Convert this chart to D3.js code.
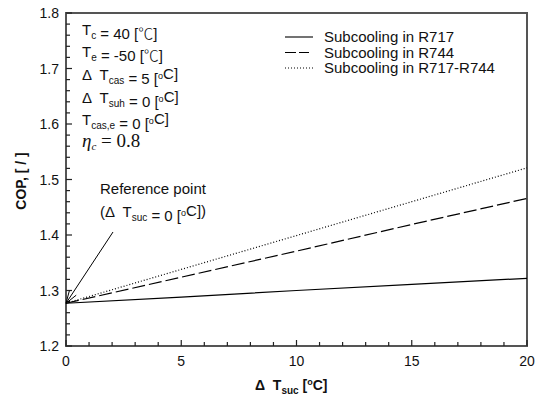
<!DOCTYPE html>
<html>
<head>
<meta charset="utf-8">
<script src="https://cdn.jsdelivr.net/npm/d3@7"></script>
<style>
  body { margin: 0; background: #fff; }
  svg text { font-family: "Liberation Sans", Arial, sans-serif; fill: #111; white-space: pre; }
  .tick_lbl { font-size: 14px; }
  .axis_title { font-size: 14px; font-weight: bold; }
  .note { font-size: 15px; }
</style>
</head>
<body>
<div id="viz"></div>
<script>
// values
const dTsuc = [0, 5, 10, 15, 20];
const copR717 = [1.277, 1.288, 1.300, 1.311, 1.322];
const copR744 = [1.277, 1.324, 1.371, 1.419, 1.466];
const copR717R744 = [1.277, 1.338, 1.399, 1.460, 1.521];
const seriesNames = ["Subcooling in R717", "Subcooling in R744", "Subcooling in R717-R744"];
const xTicks = [0, 5, 10, 15, 20];
const yTicks = [1.2, 1.3, 1.4, 1.5, 1.6, 1.7, 1.8];

const width = 543;
const height = 402;
const padLeft = 66, padRight = 527, padTop = 13, padBottom = 346;

const svg = d3.select("#viz")
    .append("svg")
    .attr("width", width)
    .attr("height", height);

const x = d3.scaleLinear().domain([0, 20]).range([padLeft, padRight]);
const y = d3.scaleLinear().domain([1.2, 1.8]).range([padBottom, padTop]);

// frame
svg.append("rect")
    .attr("x", padLeft).attr("y", padTop)
    .attr("width", padRight - padLeft).attr("height", padBottom - padTop)
    .attr("fill", "none").attr("stroke", "#555").attr("stroke-width", 2);

// minor + major ticks, pointing inward (left and bottom only)
const xMinor = x.ticks(20);
const yMinor = y.ticks(30);

svg.append("g").selectAll("rect")
    .data(xMinor)
    .enter().append("rect")
    .attr("x", d => x(d) - 0.6)
    .attr("y", d => padBottom - (Math.round(d) % 5 === 0 ? 6 : 4))
    .attr("width", 1.2)
    .attr("height", d => (Math.round(d) % 5 === 0 ? 6 : 4))
    .attr("fill", "#222");

svg.append("g").selectAll("rect")
    .data(yMinor)
    .enter().append("rect")
    .attr("x", padLeft)
    .attr("y", d => y(d) - 0.6)
    .attr("width", (d, i) => (i % 5 === 0 ? 6 : 4))
    .attr("height", 1.2)
    .attr("fill", "#222");

// tick labels
svg.selectAll(".xl").data(xTicks).enter().append("text")
    .attr("class", "tick_lbl")
    .attr("x", d => x(d)).attr("y", padBottom + 20)
    .attr("text-anchor", "middle")
    .text(d => d);

svg.selectAll(".yl").data(yTicks).enter().append("text")
    .attr("class", "tick_lbl")
    .attr("x", padLeft - 7).attr("y", d => y(d) + 5)
    .attr("text-anchor", "end")
    .text(d => d.toFixed(1));

// series
const dashes = [null, "13,4", "1,2"];
const allSeries = [copR717, copR744, copR717R744];
const line = d3.line().x(d => x(d[0])).y(d => y(d[1]));

allSeries.forEach((s, i) => {
    svg.append("path")
        .datum(dTsuc.map((t, j) => [t, s[j]]))
        .attr("d", line)
        .attr("fill", "none")
        .attr("stroke", "#000")
        .attr("stroke-width", 1.2)
        .attr("stroke-dasharray", dashes[i]);
});

// legend
const legendY = [37, 52.5, 68];
seriesNames.forEach((name, i) => {
    svg.append("line")
        .attr("x1", 285).attr("x2", 313)
        .attr("y1", legendY[i]).attr("y2", legendY[i])
        .attr("stroke", "#000").attr("stroke-width", 1.1)
        .attr("stroke-dasharray", i == 1 ? "11,3,10,4,1,3" : dashes[i]);
    svg.append("text")
        .attr("class", "note")
        .attr("x", 324).attr("y", legendY[i] + 5)
        .text(name);
});

// condition notes
function note(xp, yp, parts) {
    const t = svg.append("text").attr("class", "note").attr("x", xp).attr("y", yp);
    parts.forEach(p => {
        if (p[1] === "sub") {
            t.append("tspan").attr("font-size", "10px").attr("dy", 4).text(p[0]);
            t.append("tspan").attr("dy", -4).text("");
        } else if (p[1] === "sup") {
            t.append("tspan").attr("font-size", "9px").attr("dy", -5).text(p[0]);
            t.append("tspan").attr("dy", 5).text("");
        } else if (p[1] === "cjk") {
            t.append("tspan").style("font-family", "'Noto Sans CJK JP'").attr("font-weight", 300).text(p[0]);
        } else {
            t.append("tspan").text(p[0]);
        }
    });
    return t;
}

note(82, 35, [["T"], ["c", "sub"], [" = 40 ["], ["\u2103", "cjk"], ["]"]]);
note(82, 57, [["T"], ["e", "sub"], [" = -50 ["], ["\u2103", "cjk"], ["]"]]);
note(82, 80, [["\u0394  T"], ["cas", "sub"], [" = 5 ["], ["o", "sup"], ["C]"]]);
note(82, 103, [["\u0394  T"], ["suh", "sub"], [" = 0 ["], ["o", "sup"], ["C]"]]);
note(82, 125, [["T"], ["cas,e", "sub"], [" = 0 ["], ["o", "sup"], ["C]"]]);

const eta = svg.append("text").attr("x", 82).attr("y", 147)
    .style("font-family", "'Liberation Serif', 'Times New Roman', serif")
    .style("font-size", "19px");
eta.append("tspan").attr("font-style", "italic").text("\u03B7");
eta.append("tspan").attr("font-style", "italic").attr("font-size", "11px").attr("dy", 3).text("c");
eta.append("tspan").attr("dy", -3).text(" = 0.8");

// reference point
note(100, 194, [["Reference point"]]);
note(100, 217, [["(\u0394  T"], ["suc", "sub"], [" = 0 ["], ["o", "sup"], ["C])"]]);

const tip = [x(0), y(1.277)];
const tail = [113, 232];
svg.append("line")
    .attr("x1", tail[0]).attr("y1", tail[1])
    .attr("x2", tip[0]).attr("y2", tip[1])
    .attr("stroke", "#000").attr("stroke-width", 1);
const ang = Math.atan2(tail[1] - tip[1], tail[0] - tip[0]);
[-0.32, 0.32].forEach(a => {
    svg.append("line")
        .attr("x1", tip[0]).attr("y1", tip[1])
        .attr("x2", tip[0] + 13 * Math.cos(ang + a))
        .attr("y2", tip[1] + 13 * Math.sin(ang + a))
        .attr("stroke", "#000").attr("stroke-width", 1);
});

// axis titles
svg.append("text")
    .attr("class", "axis_title")
    .attr("transform", "translate(26,181) rotate(-90)")
    .attr("text-anchor", "middle")
    .text("COP, [ / ]");

const xt = svg.append("text")
    .attr("class", "axis_title")
    .attr("x", 255).attr("y", 390);
xt.append("tspan").text("\u0394  T");
xt.append("tspan").attr("font-size", "10px").attr("dy", 4).text("suc");
xt.append("tspan").attr("dy", -4).text(" [");
xt.append("tspan").attr("font-size", "9px").attr("dy", -5).text("o");
xt.append("tspan").attr("dy", 5).text("C]");
</script>
</body>
</html>
